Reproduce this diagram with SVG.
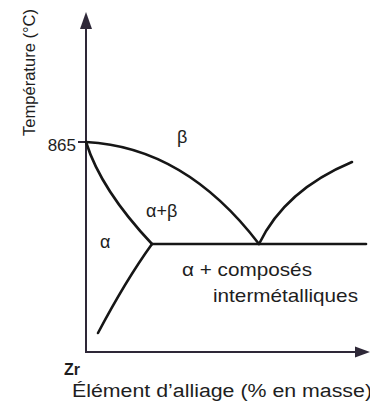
<svg xmlns="http://www.w3.org/2000/svg" width="370" height="414" viewBox="0 0 370 414">
<style>
.ax{stroke:#2e2838;stroke-width:2;fill:none}
.cv{stroke:#161616;stroke-width:2.6;fill:none;stroke-linecap:round}
.t{font-family:"Liberation Sans",Arial,sans-serif;fill:#1e1e1e}
</style>
<rect width="370" height="414" fill="#ffffff"/>
<g id="axes">
<line class="ax" x1="86" y1="353" x2="86" y2="26"/>
<polygon points="86,12 80,29 92,29" fill="#2e2838"/>
<line class="ax" x1="85" y1="352" x2="358" y2="352"/>
<polygon points="370,352 355,346.5 355,357.5" fill="#2e2838"/>
<line class="ax" x1="78" y1="142" x2="86" y2="142"/>
</g>
<g id="connectors">
<path class="cv" d="M86,142 Q185,147 259,244"/>
<path class="cv" d="M259,244 Q285,190 352,162"/>
<path class="cv" d="M86,142 Q101,190 152,244"/>
<path class="cv" d="M152,244 Q126,280 98,333"/>
<path class="cv" d="M152,244 H366"/>
</g>
<g id="labels">
<text class="t" font-size="17" transform="translate(35,136) rotate(-90)" textLength="127" lengthAdjust="spacingAndGlyphs">Température (°C)</text>
<text class="t" font-size="17" x="76" y="151" text-anchor="end">865</text>
<text class="t" font-size="18" x="177" y="143">β</text>
<text class="t" font-size="18" x="146" y="217">α+β</text>
<text class="t" font-size="18" x="100" y="248">α</text>
<text class="t" font-size="19" x="182" y="276" textLength="130" lengthAdjust="spacingAndGlyphs">α + composés</text>
<text class="t" font-size="19" x="213" y="302" textLength="145" lengthAdjust="spacingAndGlyphs">intermétalliques</text>
<text class="t" font-size="16" font-weight="bold" x="64" y="375">Zr</text>
<text class="t" font-size="18" x="72" y="397" textLength="300" lengthAdjust="spacingAndGlyphs">Élément d’alliage (% en masse)</text>
</g>
</svg>
